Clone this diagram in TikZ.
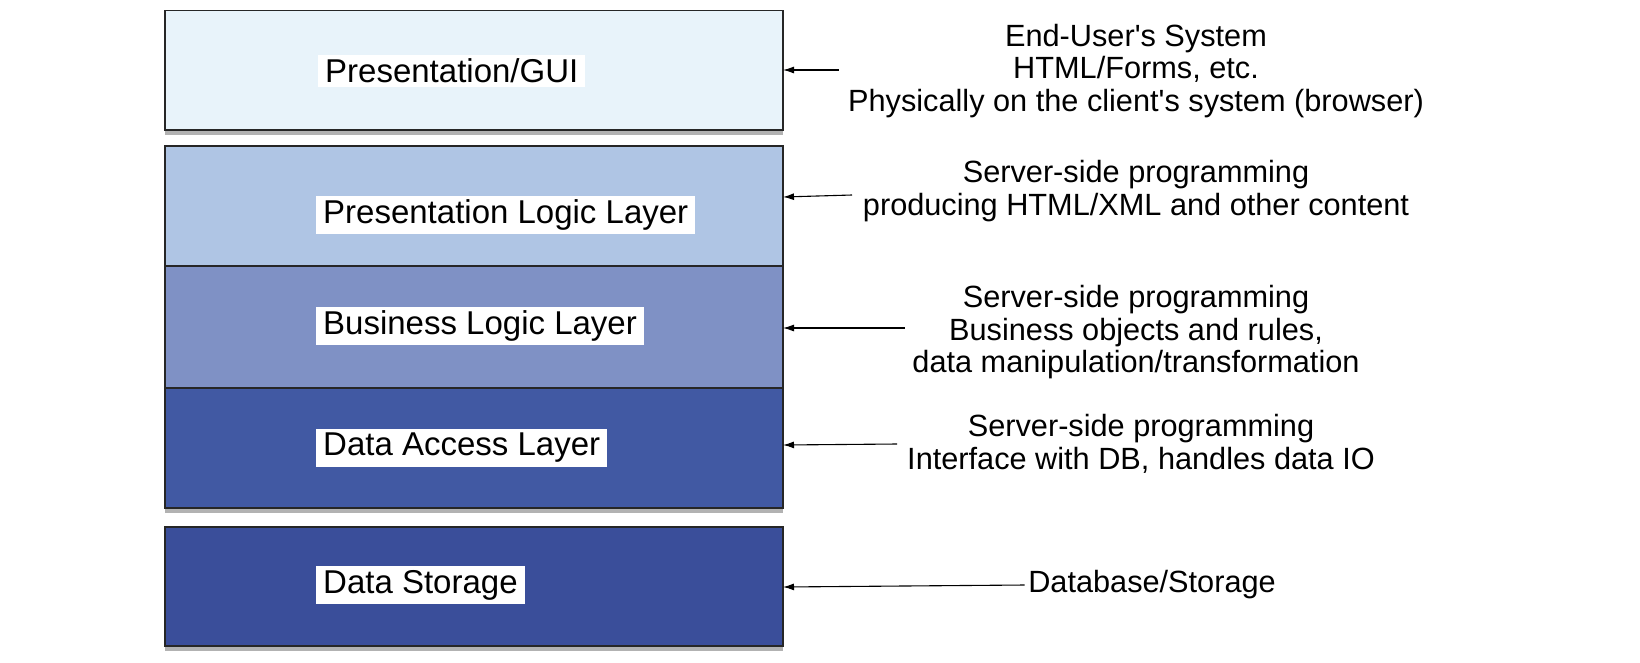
\documentclass[tikz,border=0pt]{standalone}
\usepackage{fontspec}
\setmainfont{Liberation Sans}
\usetikzlibrary{arrows.meta,shadows}
\definecolor{guicol}{RGB}{232,243,250}
\definecolor{plcol}{RGB}{175,197,228}
\definecolor{blcol}{RGB}{127,145,197}
\definecolor{dacol}{RGB}{65,89,163}
\definecolor{dscol}{RGB}{58,78,154}
\tikzset{
  layer/.style={rectangle,draw=black!85,line width=1.2pt,drop shadow={shadow xshift=0pt,shadow yshift=-5pt,opacity=0.6}},
  tag/.style={fill=white,anchor=west,inner xsep=7pt,inner ysep=4pt,font=\fontsize{33}{38}\selectfont},
  note/.style={align=center,font=\fontsize{30.7}{32.5}\selectfont},
  pointer/.style={{Latex[length=11pt,width=7pt]}-,line width=1.1pt}
}
\begin{document}
\begin{tikzpicture}[x=1pt,y=-1pt]
\useasboundingbox[fill=white] (0,0) rectangle (1640,662);
% layer boxes
\path[layer,fill=guicol] (165,10.5) rectangle (783,130);
\path[layer,fill=plcol] (165,146) rectangle (783,266);
\path[layer,fill=blcol] (165,266) rectangle (783,388);
\path[layer,fill=dacol] (165,388) rectangle (783,508);
\path[layer,fill=dscol] (165,527) rectangle (783,646);
% box labels
\node[tag] (gui) at (318,71) {Presentation/GUI};
\node[tag] (pll) at (316,215) {Presentation Logic Layer};
\node[tag] (bll) at (316,326) {Business Logic Layer};
\node[tag] (dal) at (316,448) {Data Access Layer};
\node[tag] (dst) at (316,585) {Data Storage};
% right edge points
\coordinate (guiR) at (783,70);
\coordinate (pllR) at (783,197);
\coordinate (bllR) at (783,328);
\coordinate (dalR) at (783,445);
\coordinate (dstR) at (783,587);
% descriptions
\node[note] (endu) at (1136,71) {End-User\textquotesingle s System\\HTML/Forms, etc.\\Physically on the client\textquotesingle s system (browser)};
\node[note] (srv1) at (1136,191) {Server-side programming\\producing HTML/XML and other content};
\node[note] (srv2) at (1136,332.5) {Server-side programming\\Business objects and rules,\\data manipulation/transformation};
\node[note] (srv3) at (1141,444) {Server-side programming\\Interface with DB, handles data IO};
\node[note] (dbs) at (1152,585) {Database/Storage};
% arrows
\draw[pointer] (guiR) -- (839,70);
\draw[pointer] (pllR) -- (852,195);
\draw[pointer] (bllR) -- (905,328);
\draw[pointer] (dalR) -- (897,444);
\draw[pointer] (dstR) -- (dbs.west);
\end{tikzpicture}
\end{document}
